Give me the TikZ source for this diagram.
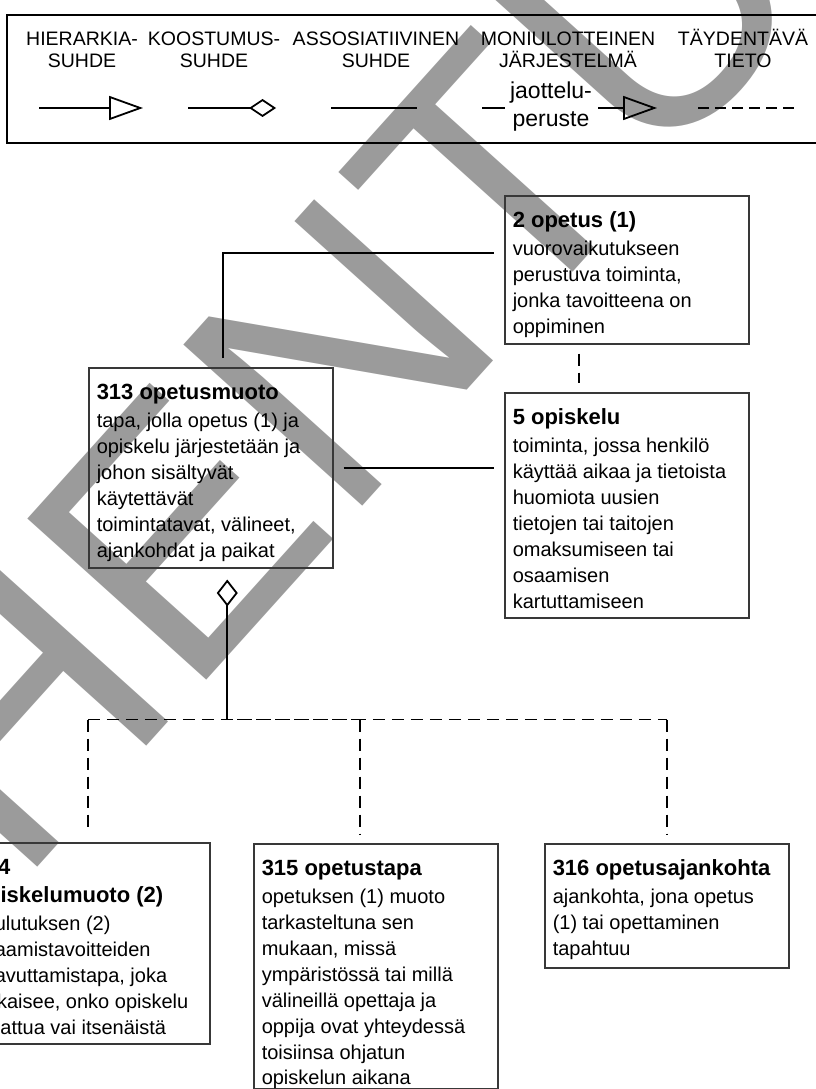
\documentclass[tikz,border=0pt]{standalone}
\usepackage{fontspec}
\setmainfont{Liberation Sans}
\usetikzlibrary{arrows.meta,calc}
\definecolor{wmgray}{RGB}{155,155,155}
\newcommand{\tbox}[3]{\parbox[c][#1][t]{228pt}{\raggedright\fontsize{22}{28}\selectfont\bfseries\rule{0pt}{24pt}#2\par\vspace{2pt}\fontsize{20}{25.9}\selectfont\mdseries #3\par}}
\newcommand{\lstrut}{\rule{0pt}{18pt}}
\tikzset{
  term/.style={draw=black!78, line width=1.5pt, inner sep=8pt, anchor=north west},
  conn/.style={line width=1.8pt},
  dconn/.style={line width=1.8pt, dash pattern=on 12pt off 7pt},
  lab/.style={align=center, font=\fontsize{19.5}{22}\selectfont, inner sep=0pt, anchor=north},
  opentri/.style={-{Triangle[open,length=34pt,width=24pt]}},
}
\begin{document}
\begin{tikzpicture}[x=1pt,y=1pt]
\useasboundingbox (0,0) rectangle (816,-1089);
\clip (0,0) rectangle (816,-1089);
% watermark
\node[rotate=48, text=wmgray, font=\fontsize{350}{350}\selectfont, inner sep=0pt] (wm) at (342,-352) {VANHENTUNUT};
% legend
\draw[line width=2.2pt] (830,-15) -- (7,-15) -- (7,-143) -- (830,-143);
\node[lab] (l1) at (82,-27) {\lstrut HIERARKIA-\\SUHDE};
\node[lab] (l2) at (214,-27) {\lstrut KOOSTUMUS-\\SUHDE};
\node[lab] (l3) at (376,-27) {\lstrut ASSOSIATIIVINEN\\SUHDE};
\node[lab] (l4) at (568,-27) {\lstrut MONIULOTTEINEN\\JÄRJESTELMÄ};
\node[lab] (l5) at (743,-27) {\lstrut TÄYDENTÄVÄ\\TIETO};
\draw[conn, opentri] (39,-108) -- (143,-108);
\draw[conn, -{Diamond[open,length=27pt,width=18pt]}] (188,-108) -- (276,-108);
\draw[conn] (331,-108) -- (417,-108);
\draw[conn] (482,-108) -- (505,-108);
\node[font=\fontsize{23}{28}\selectfont, inner sep=0pt, align=center] (jp) at (551,-107) {jaottelu-\\peruste};
\draw[conn, opentri] (598,-108) -- (657,-108);
\draw[conn, dash pattern=on 11pt off 6pt] (698,-108) -- (795,-108);
% terms
\node[term] (n2) at (504,-195) {\tbox{132pt}{2 opetus (1)}{vuorovaikutukseen\\perustuva toiminta,\\jonka tavoitteena on\\oppiminen}};
\node[term] (n313) at (88,-367) {\tbox{184pt}{313 opetusmuoto}{tapa, jolla opetus (1) ja\\opiskelu järjestetään ja\\johon sisältyvät\\käytettävät\\toimintatavat, välineet,\\ajankohdat ja paikat}};
\node[term] (n5) at (504,-392) {\tbox{209pt}{5 opiskelu}{toiminta, jossa henkilö\\käyttää aikaa ja tietoista\\huomiota uusien\\tietojen tai taitojen\\omaksumiseen tai\\osaamisen\\kartuttamiseen}};
\node[term] (n314) at (-35,-842) {\tbox{185pt}{314\\opiskelumuoto (2)}{koulutuksen (2)\\osaamistavoitteiden\\saavuttamistapa, joka\\ratkaisee, onko opiskelu\\ohjattua vai itsenäistä}};
\node[term] (n315) at (253,-843) {\tbox{229pt}{315 opetustapa}{opetuksen (1) muoto\\tarkasteltuna sen\\mukaan, missä\\ympäristössä tai millä\\välineillä opettaja ja\\oppija ovat yhteydessä\\toisiinsa ohjatun\\opiskelun aikana}};
\node[term] (n316) at (544,-843) {\tbox{108pt}{316 opetusajankohta}{ajankohta, jona opetus\\(1) tai opettaminen\\tapahtuu}};
% connectors
\draw[conn] ($(n313.north)+(12.5,9)$) |- ($(n2.north west)+(-10,-58)$);
\draw[conn] ($(n313.north east)+(10,-101)$) -- ($(n313.north east -| n5.west)+(-10,-101)$);
\draw[dconn] ($(n2.south west)+(75,-9)$) -- ($(n5.north west)+(75,9)$);
\coordinate (j) at ($(n313.south)+(16.5,-151)$);
\draw[conn, {Diamond[open,length=27pt,width=21pt]}-] ($(n313.south)+(16.5,-11)$) -- (j);
\coordinate (jl) at (j -| n314.north);
\coordinate (jr) at (j -| n316.north);
\coordinate (jm) at ($(j -| n315.north west)+(107,0)$);
\draw[dconn] (jl) -- (jr);
\draw[dconn, dash phase=9pt] (j) -- (jm);
\draw[dconn] (jl) -- ($(n314.north)+(0,9)$);
\draw[dconn] (jm) -- ($(jm |- n315.north)+(0,9)$);
\draw[dconn] (jr) -- ($(n316.north)+(0,9)$);
\end{tikzpicture}
\end{document}
